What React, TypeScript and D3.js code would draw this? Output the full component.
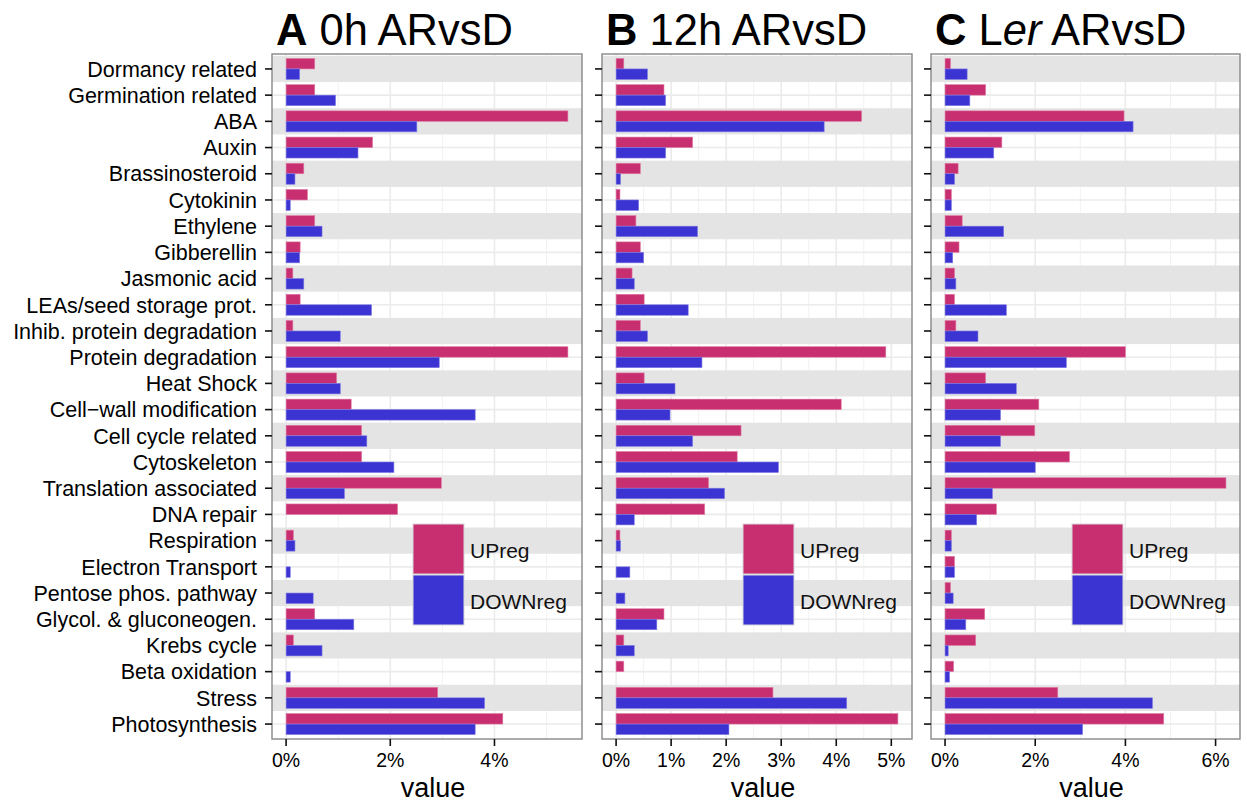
import React from "react";
import * as d3 from "d3";

const categories = [
  "Dormancy related",
  "Germination related",
  "ABA",
  "Auxin",
  "Brassinosteroid",
  "Cytokinin",
  "Ethylene",
  "Gibberellin",
  "Jasmonic acid",
  "LEAs/seed storage prot.",
  "Inhib. protein degradation",
  "Protein degradation",
  "Heat Shock",
  "Cell\u2212wall modification",
  "Cell cycle related",
  "Cytoskeleton",
  "Translation associated",
  "DNA repair",
  "Respiration",
  "Electron Transport",
  "Pentose phos. pathway",
  "Glycol. & gluconeogen.",
  "Krebs cycle",
  "Beta oxidation",
  "Stress",
  "Photosynthesis",
];

// percent values
const upA = [0.55, 0.55, 5.41, 1.66, 0.34, 0.41, 0.55, 0.27, 0.13, 0.27, 0.13, 5.41, 0.97, 1.25, 1.45, 1.45, 2.98, 2.14, 0.14, 0, 0, 0.55, 0.14, 0, 2.91, 4.16];
const downA = [0.26, 0.95, 2.51, 1.38, 0.17, 0.08, 0.69, 0.26, 0.34, 1.64, 1.04, 2.94, 1.04, 3.63, 1.55, 2.07, 1.12, 0, 0.17, 0.08, 0.52, 1.3, 0.69, 0.08, 3.81, 3.63];
const upB = [0.14, 0.87, 4.46, 1.39, 0.44, 0.07, 0.36, 0.44, 0.29, 0.51, 0.44, 4.9, 0.51, 4.09, 2.27, 2.2, 1.68, 1.61, 0.07, 0, 0, 0.87, 0.14, 0.14, 2.85, 5.12];
const downB = [0.57, 0.9, 3.78, 0.9, 0.08, 0.41, 1.48, 0.5, 0.33, 1.31, 0.57, 1.56, 1.07, 0.98, 1.39, 2.95, 1.97, 0.33, 0.08, 0.25, 0.16, 0.74, 0.33, 0, 4.19, 2.05];
const upC = [0.12, 0.9, 3.97, 1.26, 0.29, 0.14, 0.38, 0.31, 0.21, 0.21, 0.24, 4.0, 0.9, 2.08, 1.99, 2.76, 6.23, 1.14, 0.14, 0.21, 0.12, 0.88, 0.68, 0.19, 2.5, 4.85];
const downC = [0.49, 0.55, 4.17, 1.08, 0.21, 0.14, 1.3, 0.17, 0.24, 1.36, 0.73, 2.69, 1.58, 1.23, 1.23, 2.0, 1.05, 0.7, 0.14, 0.21, 0.18, 0.46, 0.07, 0.1, 4.6, 3.05];

const ticksA = [0, 2, 4];
const ticksB = [0, 1, 2, 3, 4, 5];
const ticksC = [0, 2, 4, 6];

const legendLabels = ["UPreg", "DOWNreg"];

const UP = "#C82F70";
const DOWN = "#3B34D2";
const FONT = "'Liberation Sans', Arial, Helvetica, sans-serif";

const panels = [
  { letter: "A", up: upA, down: downA, ticks: ticksA, left: 272, right: 582 },
  { letter: "B", up: upB, down: downB, ticks: ticksB, left: 602, right: 912 },
  { letter: "C", up: upC, down: downC, ticks: ticksC, left: 931, right: 1240 },
];

const TOP = 54;
const BOTTOM = 739;

const y = d3.scaleBand().domain(categories).range([TOP, BOTTOM]).paddingInner(0).paddingOuter(0.07);

function Title({ letter, x }: { letter: string; x: number }) {
  return (
    <text x={x} y={45} fontFamily={FONT} fontSize={43.5} fill="#000">
      <tspan fontWeight="bold">{letter}</tspan>
      {letter === "A" && <tspan> 0h ARvsD</tspan>}
      {letter === "B" && <tspan> 12h ARvsD</tspan>}
      {letter === "C" && (
        <>
          <tspan> L</tspan>
          <tspan fontStyle="italic">er</tspan>
          <tspan> ARvsD</tspan>
        </>
      )}
    </text>
  );
}

function Panel({ p, showLabels }: { p: (typeof panels)[number]; showLabels: boolean }) {
  const max = d3.max([...p.up, ...p.down]) as number;
  const x = d3.scaleLinear().domain([-0.05 * max, 1.05 * max]).range([p.left, p.right]);
  const step = y.step();
  const barH = step * 0.4;
  const tStep = p.ticks[1] - p.ticks[0];
  const minors = p.ticks.map((t) => t + tStep / 2).filter((m) => m <= x.domain()[1]);
  const w = p.right - p.left;
  const lx = p.left + 141;
  const ly = 524;

  return (
    <g>
      <rect x={p.left} y={TOP} width={w} height={BOTTOM - TOP} fill="#fff" />
      {minors.map((m) => (
        <line key={"mi" + m} x1={x(m)} x2={x(m)} y1={TOP} y2={BOTTOM} stroke="#F2F2F2" strokeWidth={1} />
      ))}
      {p.ticks.map((t) => (
        <line key={"ma" + t} x1={x(t)} x2={x(t)} y1={TOP} y2={BOTTOM} stroke="#EBEBEB" strokeWidth={1.6} />
      ))}
      {categories.map((c) => {
        const cy = (y(c) as number) + step / 2;
        return <line key={"h" + c} x1={p.left} x2={p.right} y1={cy} y2={cy} stroke="#EBEBEB" strokeWidth={1.6} />;
      })}
      {categories.map((c, i) =>
        i % 2 === 0 ? (
          <rect key={"b" + c} x={p.left} y={y(c)} width={w} height={step} fill="#E4E4E4" />
        ) : null
      )}
      {categories.map((c, i) => {
        const cy = (y(c) as number) + step / 2;
        return (
          <g key={"bar" + c}>
            {p.up[i] > 0 && (
              <rect x={x(0)} y={cy - barH} width={x(p.up[i]) - x(0)} height={barH} fill={UP} stroke="#E07AA3" strokeWidth={0.6} />
            )}
            {p.down[i] > 0 && (
              <rect x={x(0)} y={cy} width={x(p.down[i]) - x(0)} height={barH} fill={DOWN} stroke="#7F7AE3" strokeWidth={0.6} />
            )}
          </g>
        );
      })}
      {/* legend */}
      <rect x={lx} y={ly} width={51} height={50} fill={UP} stroke="#D8D8D8" strokeWidth={1} />
      <rect x={lx} y={ly + 51} width={51} height={50} fill={DOWN} stroke="#D8D8D8" strokeWidth={1} />
      <text x={lx + 57} y={ly + 34} fontFamily={FONT} fontSize={21} fill="#111">{legendLabels[0]}</text>
      <text x={lx + 57} y={ly + 85} fontFamily={FONT} fontSize={21} fill="#111">{legendLabels[1]}</text>
      <rect x={p.left} y={TOP} width={w} height={BOTTOM - TOP} fill="none" stroke="#888" strokeWidth={1.4} />
      {/* y ticks */}
      {categories.map((c) => {
        const cy = (y(c) as number) + step / 2;
        return (
          <g key={"yt" + c}>
            <line x1={p.left - 7} x2={p.left} y1={cy} y2={cy} stroke="#111" strokeWidth={1.6} />
            {showLabels && (
              <text x={p.left - 15} y={cy} dy="0.36em" textAnchor="end" fontFamily={FONT} fontSize={21.5} fill="#000">
                {c}
              </text>
            )}
          </g>
        );
      })}
      {/* x ticks */}
      {p.ticks.map((t) => (
        <g key={"xt" + t}>
          <line x1={x(t)} x2={x(t)} y1={BOTTOM} y2={BOTTOM + 7} stroke="#111" strokeWidth={1.6} />
          <text x={x(t)} y={767} textAnchor="middle" fontFamily={FONT} fontSize={19.5} fill="#000">
            {t + "%"}
          </text>
        </g>
      ))}
      <text x={(p.left + p.right) / 2 + 6} y={797} textAnchor="middle" fontFamily={FONT} fontSize={27} fill="#000">
        value
      </text>
      <Title letter={p.letter} x={p.left + 4} />
    </g>
  );
}

export default function App() {
  return (
    <svg width={1247} height={803} style={{ position: "absolute", left: 0, top: 0, background: "#fff" }}>
      <rect width={1247} height={803} fill="#fff" />
      {panels.map((p, i) => (
        <Panel key={p.letter} p={p} showLabels={i === 0} />
      ))}
    </svg>
  );
}
